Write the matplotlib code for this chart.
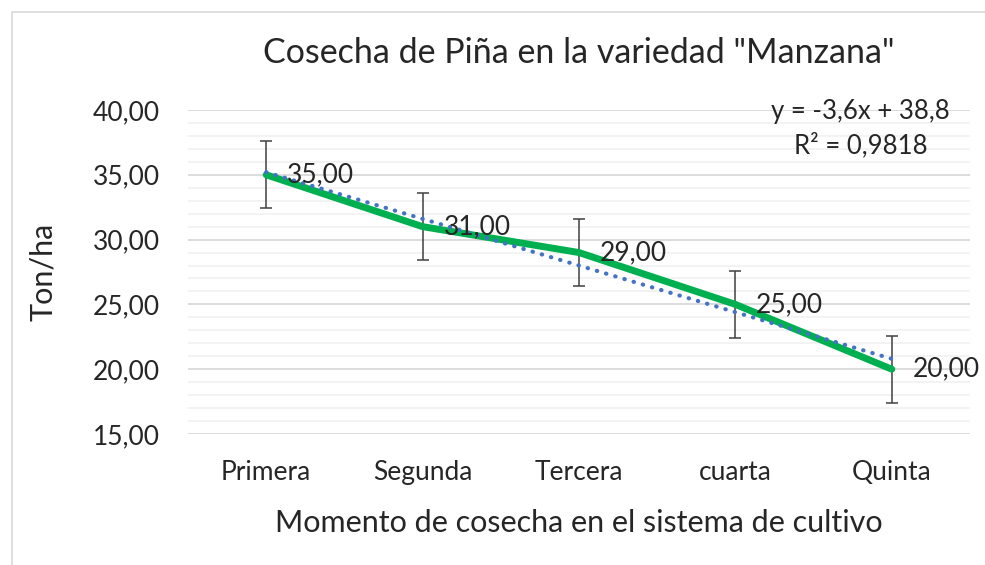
import matplotlib.pyplot as plt
import numpy as np
from matplotlib.patches import Rectangle

plt.rcParams['font.family'] = ['Lato', 'DejaVu Sans']

categorias = ["Primera", "Segunda", "Tercera", "cuarta", "Quinta"]
ton_ha = [35.0, 31.0, 29.0, 25.0, 20.0]
error_est = [2.57, 2.57, 2.57, 2.57, 2.57]
pendiente = -3.6
intercepto = 38.8
r2 = 0.9818

fig = plt.figure(figsize=(9.85, 5.65), dpi=100)
ax = fig.add_axes([188 / 985, 1 - 434 / 565, 782 / 985, 324 / 565])

x = np.arange(len(categorias))

# lineas de division
for y in np.arange(15, 40.01, 1):
    if abs(y % 5) < 1e-6:
        ax.axhline(y, color='#D9D9D9', lw=1.3, zorder=0)
    else:
        ax.axhline(y, color='#F2F2F2', lw=1.3, zorder=0)

ax.errorbar(x, ton_ha, yerr=error_est, fmt='none', ecolor='#404040',
            elinewidth=1.1, capsize=4, capthick=1.1, zorder=2)
ax.plot(x, ton_ha, color='#00B050', lw=5, solid_capstyle='round', zorder=3)

# linea de tendencia
tend = pendiente * (x + 1) + intercepto
ax.plot(x, tend, color='#4472C4', lw=3, linestyle=(0, (0.1, 2.2)),
        dash_capstyle='round', zorder=4)

for xi, v in zip(x, ton_ha):
    ax.annotate(f"{v:.2f}".replace('.', ','), (xi, v), xytext=(15, 0),
                textcoords='offset points', va='center', ha='left',
                fontsize=19, color='#262626', zorder=5)

ax.text(0.974, 0.994, f"y = {pendiente:.1f}x + {intercepto:.1f}".replace('.', ','),
        transform=ax.transAxes, ha='right', va='center', fontsize=18.5, color='#262626')
ax.text(0.946, 0.892, f"R² = {r2:.4f}".replace('.', ','),
        transform=ax.transAxes, ha='right', va='center', fontsize=18.5, color='#262626')

ax.set_xlim(-0.5, 4.5)
ax.set_ylim(15, 40)
ax.set_xticks(x)
ax.set_xticklabels(categorias)
ax.set_yticks(np.arange(15, 41, 5))
ax.set_yticklabels([f"{v:.2f}".replace('.', ',') for v in np.arange(15, 41, 5)])
ax.tick_params(length=0, labelsize=19, colors='#262626')
ax.tick_params(axis='y', pad=20)
ax.tick_params(axis='x', pad=19)
for s in ax.spines.values():
    s.set_visible(False)

ax.set_xlabel("Momento de cosecha en el sistema de cultivo", fontsize=22,
              color='#262626', labelpad=17)
ax.set_ylabel("Ton/ha", fontsize=22, color='#262626', labelpad=26)
ax.set_title('Cosecha de Piña en la variedad "Manzana"', fontsize=24.5,
             color='#262626', pad=34)

fig.patches.append(Rectangle((12 / 985, -0.1), 1.2, 1 - 12 / 565 + 0.1,
                             transform=fig.transFigure, fill=False,
                             edgecolor='#D9D9D9', lw=1.2))

fig.savefig('out.png', dpi=100)
